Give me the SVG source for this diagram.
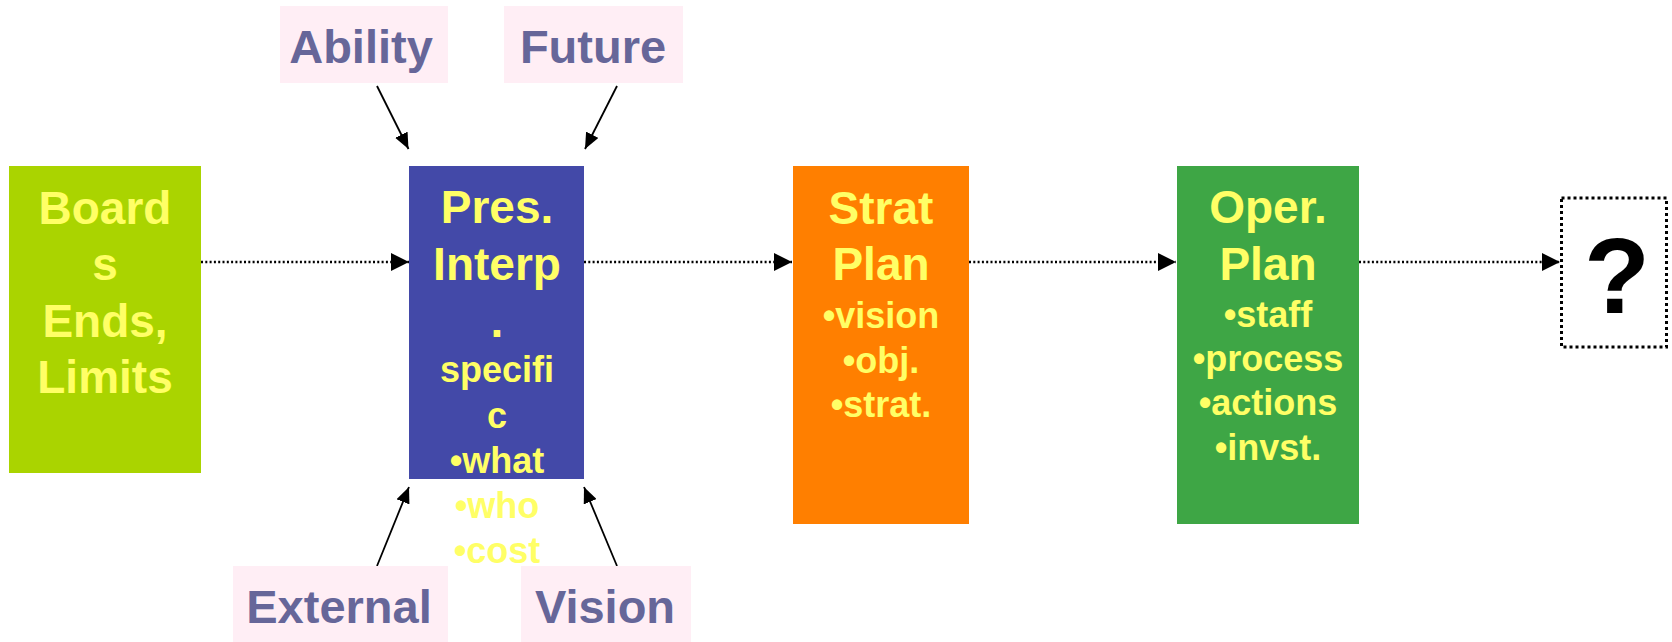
<svg xmlns="http://www.w3.org/2000/svg" width="1672" height="642" viewBox="0 0 1672 642">
<style>
text{font-family:"Liberation Sans",Arial,sans-serif;font-weight:bold;text-anchor:middle}
.t{font-size:46px;fill:#FFFF66}
.b{font-size:36px;fill:#FFFF66}
.lab{font-size:47px;fill:#666699}
.pink{fill:#FFEEF5}
.dot{stroke:#000;stroke-width:2.3;stroke-dasharray:2 2.3;fill:none}
.sol{stroke:#000;stroke-width:1.8;fill:none}
</style>
<defs>
<marker id="ah" markerUnits="userSpaceOnUse" markerWidth="18" markerHeight="18" viewBox="0 0 16 16" refX="16" refY="8" orient="auto">
<path d="M0,0 L16,8 L0,16 Z" fill="#000"/>
</marker>
<marker id="ah2" markerUnits="userSpaceOnUse" markerWidth="16" markerHeight="14" viewBox="0 0 15 13" refX="15" refY="6.5" orient="auto">
<path d="M0,0 L15,6.5 L0,13 Z" fill="#000"/>
</marker>
</defs>
<rect width="1672" height="642" fill="#fff"/>
<g id="connectors">
<line class="dot" x1="201" y1="262" x2="409" y2="262" marker-end="url(#ah)"/>
<line class="dot" x1="584" y1="262" x2="792" y2="262" marker-end="url(#ah)"/>
<line class="dot" x1="969" y1="262" x2="1176" y2="262" marker-end="url(#ah)"/>
<line class="dot" x1="1359" y1="262" x2="1560" y2="262" marker-end="url(#ah)"/>
<line class="sol" x1="377" y1="86" x2="408.5" y2="149" marker-end="url(#ah2)"/>
<line class="sol" x1="617" y1="86" x2="585" y2="149" marker-end="url(#ah2)"/>
<line class="sol" x1="377" y1="566" x2="409" y2="487" marker-end="url(#ah2)"/>
<line class="sol" x1="617" y1="566" x2="584" y2="487" marker-end="url(#ah2)"/>
</g>
<g id="board">
<rect x="9" y="166" width="192" height="307" fill="#AAD400"/>
<text class="t" x="105" y="224">Board</text>
<text class="t" x="105" y="280">s</text>
<text class="t" x="105" y="337">Ends,</text>
<text class="t" x="105" y="393">Limits</text>
</g>
<g id="pres">
<rect x="409" y="166" width="175" height="313" fill="#4349A8"/>
<text class="t" x="497" y="223">Pres.</text>
<text class="t" x="497" y="280">Interp</text>
<text class="t" x="497" y="337">.</text>
<text class="b" x="497" y="382">specifi</text>
<text class="b" x="497" y="428">c</text>
<text class="b" x="497" y="473">•what</text>
<text class="b" x="497" y="518">•who</text>
<text class="b" x="497" y="563">•cost</text>
</g>
<g id="strat">
<rect x="793" y="166" width="176" height="358" fill="#FF7F00"/>
<text class="t" x="881" y="224">Strat</text>
<text class="t" x="881" y="280">Plan</text>
<text class="b" x="881" y="328">•vision</text>
<text class="b" x="881" y="373">•obj.</text>
<text class="b" x="881" y="417">•strat.</text>
</g>
<g id="oper">
<rect x="1177" y="166" width="182" height="358" fill="#3EA645"/>
<text class="t" x="1268" y="223">Oper.</text>
<text class="t" x="1268" y="280">Plan</text>
<text class="b" x="1268" y="327">•staff</text>
<text class="b" x="1268" y="371">•process</text>
<text class="b" x="1268" y="415">•actions</text>
<text class="b" x="1268" y="460">•invst.</text>
</g>
<g id="unknown">
<rect x="1561.5" y="198" width="105" height="149" fill="#fff" stroke="#000" stroke-width="3" stroke-dasharray="3 3"/>
<text x="1617" y="313" style="font-size:108px;fill:#000">?</text>
</g>
<g id="ability">
<rect class="pink" x="280" y="6" width="168" height="77"/>
<text class="lab" x="361" y="63">Ability</text>
</g>
<g id="future">
<rect class="pink" x="504" y="6" width="179" height="77"/>
<text class="lab" x="593" y="63">Future</text>
</g>
<g id="external">
<rect class="pink" x="233" y="566" width="215" height="76"/>
<text class="lab" x="339" y="623">External</text>
</g>
<g id="vision">
<rect class="pink" x="521" y="566" width="170" height="76"/>
<text class="lab" x="605" y="623">Vision</text>
</g>
</svg>
